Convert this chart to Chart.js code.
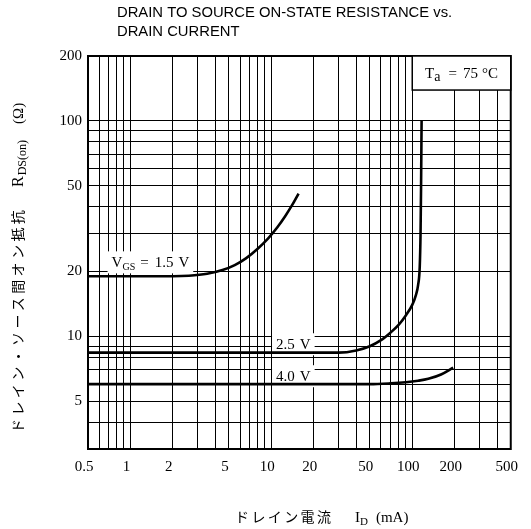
<!DOCTYPE html>
<html>
<head>
<meta charset="utf-8">
<script src="https://cdn.jsdelivr.net/npm/chart.js@4.4.1/dist/chart.umd.min.js"></script>
<style>
  html, body { margin: 0; padding: 0; background: #fff; }
  canvas { display: block; }
</style>
</head>
<body>
<canvas id="c" width="531" height="529"></canvas>
<script>
// Axis tick values (grid) and the ones that carry a printed label
const xTicks = [0.5, 0.6, 0.7, 0.8, 0.9, 1, 2, 3, 4, 5, 6, 7, 8, 9, 10, 20, 30, 40, 50, 60, 70, 80, 90, 100, 200, 300, 400, 500];
const xLabels = [0.5, 1, 2, 5, 10, 20, 50, 100, 200, 500];
const yTicks = [3, 4, 5, 6, 7, 8, 9, 10, 20, 30, 40, 50, 60, 70, 80, 90, 100, 200];
const yLabels = [5, 10, 20, 50, 100, 200];

// On-state resistance vs drain current, Ta = 75 °C
const id15 = [0.5, 1, 2, 2.6, 3.5, 4.5, 5.5, 6.6, 8, 9.5, 11, 12.5, 14, 15.6];
const r15  = [19, 19, 19, 19.1, 19.5, 20.3, 21.4, 23, 25.5, 28.5, 32, 36, 40.5, 46];

const id25 = [0.5, 30, 40, 50, 60, 70, 80, 90, 100, 106, 110, 113, 114.5, 115.5, 116.5];
const r25  = [8.4, 8.4, 8.6, 9.0, 9.6, 10.4, 11.3, 12.5, 14.0, 15.5, 17.3, 21, 30, 50, 100];

const id40 = [0.5, 50, 70, 90, 110, 130, 160, 195];
const r40  = [6.0, 6.0, 6.05, 6.12, 6.22, 6.35, 6.65, 7.15];

const toPoints = (xs, ys) => xs.map((x, i) => ({ x: x, y: ys[i] }));

const SERIF = '"Liberation Serif", "Times New Roman", serif';
const SANS = '"Liberation Sans", Arial, sans-serif';
const CJK = '"Noto Sans CJK JP", sans-serif';

// Draw a sequence of text runs on one baseline; returns the end x
function drawRuns(ctx, x, y, parts, measureOnly) {
  for (const p of parts) {
    ctx.font = p.size + 'px ' + p.fam;
    if (!measureOnly) ctx.fillText(p.t, x, y + (p.dy || 0));
    x += ctx.measureText(p.t).width + (p.gap || 0);
  }
  return x;
}

// In-plot labels: left edge (mA) and baseline (Ω) in data units
const curveLabels = [
  { x: 0.735, y: 20.9, parts: [
    { t: 'V', size: 15, fam: SERIF },
    { t: 'GS', size: 10, fam: SERIF, dy: 3, gap: 5 },
    { t: '=', size: 15, fam: SERIF, gap: 6 },
    { t: '1.5', size: 15, fam: SERIF, gap: 5 },
    { t: 'V', size: 15, fam: SERIF } ] },
  { x: 10.8, y: 8.71, parts: [
    { t: '2.5', size: 15, fam: SERIF, gap: 5 },
    { t: 'V', size: 15, fam: SERIF } ] },
  { x: 10.8, y: 6.19, parts: [
    { t: '4.0', size: 15, fam: SERIF, gap: 5 },
    { t: 'V', size: 15, fam: SERIF } ] }
];

const deco = {
  id: 'deco',
  beforeDatasetsDraw(chart) {
    const { ctx, chartArea: a, scales: { x, y } } = chart;
    ctx.save();
    // white backing under the curve labels
    for (const L of curveLabels) {
      const px = x.getPixelForValue(L.x), py = y.getPixelForValue(L.y);
      const end = drawRuns(ctx, px, py, L.parts, true);
      ctx.fillStyle = '#fff';
      ctx.fillRect(px - 4, py - 16, end - px + 8, 22);
    }
    // plot frame
    ctx.strokeStyle = '#000';
    ctx.lineWidth = 2;
    ctx.strokeRect(a.left, a.top, a.right - a.left, a.bottom - a.top);
    ctx.restore();
  },
  afterDatasetsDraw(chart) {
    const { ctx, chartArea: a, scales: { x, y } } = chart;
    ctx.save();
    ctx.fillStyle = '#000';
    ctx.textBaseline = 'alphabetic';
    ctx.textAlign = 'left';
    for (const L of curveLabels) {
      drawRuns(ctx, x.getPixelForValue(L.x), y.getPixelForValue(L.y), L.parts);
    }
    // ambient temperature box
    const bx = x.getPixelForValue(100), by = y.getPixelForValue(139);
    ctx.fillStyle = '#fff';
    ctx.fillRect(bx, a.top, a.right - bx, by - a.top);
    ctx.strokeStyle = '#000';
    ctx.lineWidth = 1.5;
    ctx.strokeRect(bx, a.top, a.right - bx, by - a.top);
    const taParts = [
      { t: 'T', size: 15, fam: SERIF },
      { t: 'a', size: 14, fam: SERIF, dy: 3, gap: 8 },
      { t: '=', size: 15, fam: SERIF, gap: 6 },
      { t: '75', size: 15, fam: SERIF, gap: 4 },
      { t: '°C', size: 15, fam: SERIF } ];
    const w = drawRuns(ctx, 0, 0, taParts, true);
    ctx.fillStyle = '#000';
    drawRuns(ctx, (bx + a.right) / 2 - w / 2, (a.top + by) / 2 + 5, taParts);
    ctx.restore();
  },
  afterDraw(chart) {
    const { ctx } = chart;
    ctx.save();
    ctx.fillStyle = '#000';
    ctx.textAlign = 'left';
    ctx.textBaseline = 'middle';
    ctx.font = '14.8px ' + SANS;
    ctx.fillText('DRAIN TO SOURCE ON-STATE RESISTANCE vs.', 117, 13);
    ctx.fillText('DRAIN CURRENT', 117, 32);

    // x-axis title
    ctx.textBaseline = 'alphabetic';
    ctx.font = '14px ' + CJK;
    let cx = 235;
    for (const ch of 'ドレイン電流') { ctx.fillText(ch, cx, 522); cx += 16.4; }
    drawRuns(ctx, 355, 522, [
      { t: 'I', size: 15, fam: SERIF },
      { t: 'D', size: 11, fam: SERIF, dy: 3, gap: 8 },
      { t: '(mA)', size: 15, fam: SERIF } ]);

    // y-axis title, rotated, reading upward
    ctx.translate(23, 433);
    ctx.rotate(-Math.PI / 2);
    ctx.font = '14px ' + CJK;
    let cy = 0;
    for (const ch of 'ドレイン・ソース間オン抵抗') { ctx.fillText(ch, cy, 0); cy += 17.4; }
    drawRuns(ctx, 246, 0, [
      { t: 'R', size: 16, fam: SERIF, gap: 1 },
      { t: 'DS(on)', size: 12, fam: SERIF, dy: 3, gap: 16 },
      { t: '(Ω)', size: 15, fam: SERIF } ]);
    ctx.restore();
  }
};

new Chart(document.getElementById('c'), {
  type: 'line',
  data: {
    datasets: [
      { label: 'VGS = 1.5 V', data: toPoints(id15, r15) },
      { label: 'VGS = 2.5 V', data: toPoints(id25, r25) },
      { label: 'VGS = 4.0 V', data: toPoints(id40, r40) }
    ]
  },
  options: {
    responsive: false,
    animation: false,
    devicePixelRatio: 1,
    layout: { padding: { top: 56, right: 19, left: 0, bottom: 0 } },
    plugins: { legend: { display: false }, tooltip: { enabled: false }, title: { display: false } },
    elements: {
      point: { radius: 0 },
      line: { borderWidth: 2.6, borderColor: '#000', cubicInterpolationMode: 'monotone', fill: false }
    },
    scales: {
      x: {
        type: 'logarithmic', min: 0.5, max: 500,
        afterBuildTicks: s => { s.ticks = xTicks.map(v => ({ value: v })); },
        afterFit: s => { s.height = 80; },
        grid: { color: '#000', lineWidth: 1, drawTicks: false },
        border: { display: false },
        ticks: {
          autoSkip: false, maxRotation: 0, minRotation: 0, padding: 9, labelOffset: -4, color: '#000',
          font: { family: SERIF, size: 15 },
          callback: v => xLabels.includes(v) ? String(v) : ''
        }
      },
      y: {
        type: 'logarithmic', min: 3, max: 200,
        afterBuildTicks: s => { s.ticks = yTicks.map(v => ({ value: v })); },
        afterFit: s => { s.width = 88; },
        grid: { color: '#000', lineWidth: 1, drawTicks: false },
        border: { display: false },
        ticks: {
          autoSkip: false, padding: 6, color: '#000',
          font: { family: SERIF, size: 15 },
          callback: v => yLabels.includes(v) ? String(v) : ''
        }
      }
    }
  },
  plugins: [deco]
});
</script>
</body>
</html>
